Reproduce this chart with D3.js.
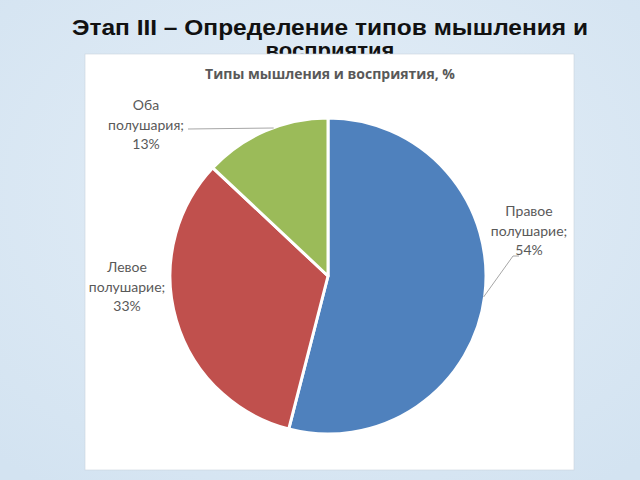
<!DOCTYPE html>
<html>
<head>
<meta charset="utf-8">
<script src="https://cdn.jsdelivr.net/npm/d3@7"></script>
<style>
  html, body { margin: 0; padding: 0; }
  body { width: 640px; height: 480px; overflow: hidden; }
</style>
</head>
<body>
<svg id="chart" width="640" height="480"></svg>
<script>
const categories = ["Правое полушарие", "Левое полушарие", "Оба полушария"];
const values = [54, 33, 13];
const colors = ["#4f81bd", "#c0504d", "#9bbb59"];

const svg = d3.select("#chart");
const width = 640, height = 480;

// snowy light-blue backdrop
const defs = svg.append("defs");
const bg = defs.append("radialGradient").attr("id", "bg").attr("cx", "50%").attr("cy", "40%").attr("r", "75%");
bg.append("stop").attr("offset", "0%").attr("stop-color", "#e4eef7");
bg.append("stop").attr("offset", "100%").attr("stop-color", "#d3e3f1");
svg.append("rect").attr("width", width).attr("height", height).attr("fill", "url(#bg)");

// slide title (second line is mostly hidden under the chart box)
const titleStyle = t => t
  .attr("text-anchor", "middle")
  .style("font-family", "'Liberation Sans', Arial, sans-serif")
  .style("font-weight", "bold")
  .style("font-size", "22px")
  .attr("fill", "#111");
titleStyle(svg.append("text"))
  .attr("x", 330).attr("y", 35)
  .attr("textLength", 516).attr("lengthAdjust", "spacingAndGlyphs")
  .text("Этап III – Определение типов мышления и");
titleStyle(svg.append("text"))
  .attr("x", 330).attr("y", 58)
  .text("восприятия");

// chart box
svg.append("rect")
  .attr("x", 85).attr("y", 54).attr("width", 489).attr("height", 416)
  .attr("fill", "#fff")
  .attr("stroke", "#c9d3dd").attr("stroke-width", 0.6);

svg.append("text")
  .attr("x", 330).attr("y", 79)
  .attr("text-anchor", "middle")
  .style("font-family", "'Open Sans', sans-serif")
  .style("font-weight", "bold")
  .style("font-size", "14px")
  .attr("fill", "#595959")
  .text("Типы мышления и восприятия, %");

const cx = 328, cy = 276, radius = 158;
const data = categories.map((c, i) => ({ name: c, value: values[i], color: colors[i] }));
const pie = d3.pie().sort(null).value(d => d.value);
const arcs = pie(data);
const arc = d3.arc().innerRadius(0).outerRadius(radius);

const g = svg.append("g").attr("transform", `translate(${cx},${cy})`);
g.selectAll("path")
  .data(arcs)
  .enter()
  .append("path")
  .attr("d", arc)
  .attr("fill", d => d.data.color)
  .attr("stroke", "#fff")
  .attr("stroke-width", 3)
  .attr("stroke-linejoin", "round");

// label placement (centre x, first baseline) and leader lines
const labelPos = [
  { x: 529, y: 216, lead: [[519, 256], [513, 256]], edgeY: 297 },
  { x: 127, y: 272, lead: null },
  { x: 146, y: 110, lead: [[188, 129]], edgeY: 128 }
];

arcs.forEach((a, i) => {
  const p = labelPos[i];
  const t = svg.append("text")
    .attr("text-anchor", "middle")
    .style("font-family", "Lato, sans-serif")
    .style("font-size", "14px")
    .attr("fill", "#595959");
  const name = a.data.name.split(" ");
  [name[0], name[1] + ";", a.data.value + "%"].forEach((s, k) => {
    t.append("tspan").attr("x", p.x).attr("y", p.y + k * 19.5).text(s);
  });
  if (p.lead) {
    const dy = p.edgeY - cy;
    const side = p.x > cx ? 1 : -1;
    const ex = cx + side * Math.sqrt(radius * radius - dy * dy);
    svg.append("path")
      .attr("d", d3.line()(p.lead.concat([[ex - side, p.edgeY]])))
      .attr("fill", "none")
      .attr("stroke", "#a6a6a6")
      .attr("stroke-width", 1);
  }
});
</script>
</body>
</html>
